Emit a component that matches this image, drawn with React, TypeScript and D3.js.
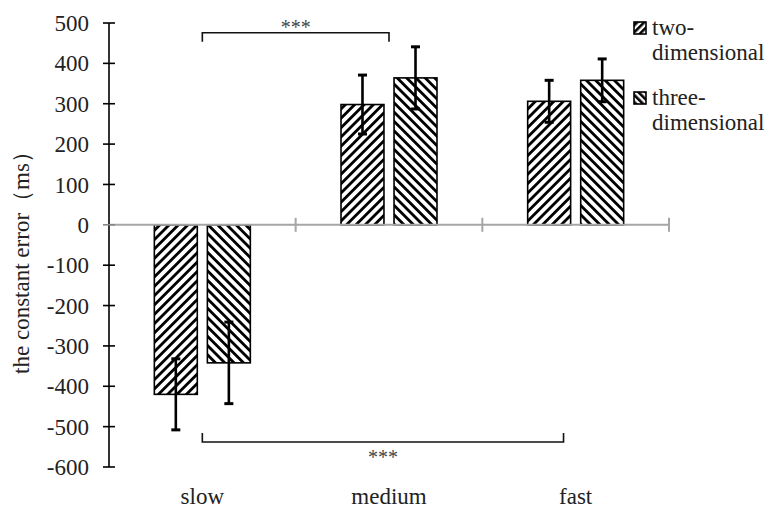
import React from "react";
import * as d3 from "d3";

const categories = ["slow", "medium", "fast"];
const seriesNames = ["two-dimensional", "three-dimensional"];
const twoDim = [-420, 298, 306];
const threeDim = [-342, 364, 358];
const twoDimErr = [88, 73, 52];
const threeDimErr = [101, 77, 53];
const yTicks = [500, 400, 300, 200, 100, 0, -100, -200, -300, -400, -500, -600];
const brackets = [
  { from: "slow", to: "medium", toShift: 0, level: 476, dir: 1, label: "***" },
  { from: "slow", to: "fast", toShift: -0.065, level: -538, dir: -1, label: "***" },
];

const W = 771;
const H = 508;
const FONT = '"Liberation Serif", "DejaVu Serif", serif';
const txt = { fontFamily: FONT };

const App = () => {
  const y = d3.scaleLinear().domain([-600, 500]).range([467, 23]);
  const x0 = d3.scaleBand().domain(categories).range([109, 669]).padding(0);
  const x1 = d3
    .scaleBand()
    .domain(seriesNames)
    .range([0, x0.bandwidth()])
    .paddingInner(0.19)
    .paddingOuter(0.855);

  const values = [twoDim, threeDim];
  const errs = [twoDimErr, threeDimErr];
  const fills = ["url(#hatchUp)", "url(#hatchDown)"];

  const bars = seriesNames.flatMap((s, si) =>
    categories.map((c, ci) => ({
      s,
      si,
      c,
      v: values[si][ci],
      e: errs[si][ci],
    }))
  );

  const center = (c: string, shift = 0) =>
    (x0(c) ?? 0) + x0.bandwidth() / 2 + shift * x0.bandwidth();

  return (
    <svg
      width={W}
      height={H}
      style={{ position: "absolute", left: 0, top: 0, background: "#fff" }}
    >
      <defs>
        <pattern
          id="hatchUp"
          patternUnits="userSpaceOnUse"
          width={6.6}
          height={6.6}
          patternTransform="rotate(45)"
        >
          <rect width={6.6} height={6.6} fill="#fff" />
          <rect x={0} width={2.8} height={6.6} fill="#000" />
        </pattern>
        <pattern
          id="hatchDown"
          patternUnits="userSpaceOnUse"
          width={6.6}
          height={6.6}
          patternTransform="rotate(-45)"
        >
          <rect width={6.6} height={6.6} fill="#fff" />
          <rect x={0} width={2.8} height={6.6} fill="#000" />
        </pattern>
        <pattern
          id="hatchUpSmall"
          patternUnits="userSpaceOnUse"
          width={5}
          height={5}
          patternTransform="rotate(45)"
        >
          <rect width={5} height={5} fill="#fff" />
          <rect x={0} width={2.6} height={5} fill="#000" />
        </pattern>
        <pattern
          id="hatchDownSmall"
          patternUnits="userSpaceOnUse"
          width={5}
          height={5}
          patternTransform="rotate(-45)"
        >
          <rect width={5} height={5} fill="#fff" />
          <rect x={0} width={2.6} height={5} fill="#000" />
        </pattern>
      </defs>

      {/* bars */}
      {bars.map((b) => {
        const bx = (x0(b.c) ?? 0) + (x1(b.s) ?? 0);
        const top = y(Math.max(0, b.v));
        const bottom = y(Math.min(0, b.v));
        return (
          <rect
            key={b.s + b.c}
            x={bx}
            y={top}
            width={x1.bandwidth()}
            height={bottom - top}
            fill={fills[b.si]}
            stroke="#000"
            strokeWidth={1.6}
          />
        );
      })}

      {/* x axis (zero line) */}
      <line x1={x0.range()[0]} x2={x0.range()[1]} y1={y(0)} y2={y(0)} stroke="#a6a6a6" strokeWidth={2} />
      {categories.map((c) => {
        const tx = (x0(c) ?? 0) + x0.bandwidth();
        return <line key={c} x1={tx} x2={tx} y1={y(0) - 7} y2={y(0) + 7} stroke="#a6a6a6" strokeWidth={2} />;
      })}

      {/* error bars */}
      {bars.map((b) => {
        const cx = (x0(b.c) ?? 0) + (x1(b.s) ?? 0) + x1.bandwidth() / 2;
        const y1 = y(b.v - b.e);
        const y2 = y(b.v + b.e);
        return (
          <g key={"e" + b.s + b.c} stroke="#000">
            <line x1={cx} x2={cx} y1={y1} y2={y2} strokeWidth={2.6} />
            <line x1={cx - 4.5} x2={cx + 4.5} y1={y1} y2={y1} strokeWidth={3} />
            <line x1={cx - 4.5} x2={cx + 4.5} y1={y2} y2={y2} strokeWidth={3} />
          </g>
        );
      })}

      {/* y axis */}
      <line x1={109} x2={109} y1={y(500)} y2={y(-600)} stroke="#000" strokeWidth={1.6} />
      {yTicks.map((t) => (
        <g key={t}>
          <line x1={103} x2={115} y1={y(t)} y2={y(t)} stroke={t === 0 ? "#888" : "#000"} strokeWidth={1.6} />
          <text x={89} y={y(t)} dy="0.35em" textAnchor="end" fontSize={23} fill="#222" style={txt}>
            {t}
          </text>
        </g>
      ))}
      <text
        transform={`translate(29,${(y(500) + y(-600)) / 2 + 12}) rotate(-90)`}
        textAnchor="middle"
        fontSize={23}
        fill="#222"
        style={txt}
      >
        the constant error（ms）
      </text>

      {/* category labels */}
      {categories.map((c) => (
        <text key={c} x={center(c)} y={504} textAnchor="middle" fontSize={23} fill="#222" style={txt}>
          {c}
        </text>
      ))}

      {/* significance brackets */}
      {brackets.map((br, i) => {
        const xa = center(br.from);
        const xb = center(br.to, br.toShift);
        const yl = y(br.level);
        const tip = yl + br.dir * 9;
        return (
          <g key={i}>
            <path
              d={`M${xa},${tip}V${yl}H${xb}V${tip}`}
              fill="none"
              stroke="#111"
              strokeWidth={1.6}
            />
            <text
              x={(xa + xb) / 2}
              y={br.dir > 0 ? yl + 1 : yl + 22}
              textAnchor="middle"
              fontSize={20}
              fill="#444"
              style={txt}
            >
              {br.label}
            </text>
          </g>
        );
      })}

      {/* legend */}
      {seriesNames.map((s, i) => {
        const ly = 22 + i * 70;
        const parts = s.split("-");
        return (
          <g key={s}>
            <rect
              x={634}
              y={ly}
              width={12}
              height={12}
              fill={i === 0 ? "url(#hatchUpSmall)" : "url(#hatchDownSmall)"}
              stroke="#000"
              strokeWidth={1.6}
            />
            <text x={652} y={ly + 13} fontSize={23} fill="#222" style={txt}>
              {parts[0] + "-"}
            </text>
            <text x={652} y={ly + 38} fontSize={23} fill="#222" style={txt}>
              {parts[1]}
            </text>
          </g>
        );
      })}
    </svg>
  );
};

export default App;
